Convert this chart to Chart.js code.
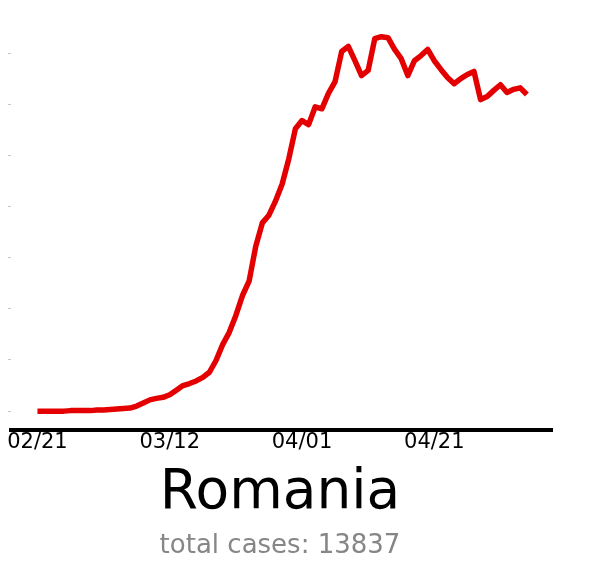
<!DOCTYPE html>
<html>
<head>
<meta charset="utf-8">
<script src="https://cdn.jsdelivr.net/npm/chart.js@4/dist/chart.umd.min.js"></script>
<style>
  html, body { margin: 0; padding: 0; background: #fff; }
  #chart { display: block; }
</style>
</head>
<body>
<canvas id="chart" width="589" height="562"></canvas>
<script>
// day offsets from 02/21 and the trend value for each day
const days = [];
for (let i = 0; i < 75; i++) days.push(i);
const trend = [
  0.00, 0.00, 0.00, 0.00, 0.00, 0.01, 0.01, 0.01, 0.01, 0.02,
  0.02, 0.03, 0.04, 0.05, 0.06, 0.10, 0.16, 0.22, 0.25, 0.27,
  0.32, 0.41, 0.50, 0.54, 0.59, 0.66, 0.76, 0.99, 1.30, 1.54,
  1.87, 2.26, 2.54, 3.22, 3.68, 3.83, 4.11, 4.44, 4.93, 5.52,
  5.68, 5.60, 5.95, 5.91, 6.21, 6.44, 7.03, 7.13, 6.85, 6.56,
  6.66, 7.28, 7.32, 7.30, 7.07, 6.89, 6.56, 6.85, 6.95, 7.07,
  6.85, 6.68, 6.52, 6.40, 6.50, 6.58, 6.64, 6.09, 6.15, 6.27,
  6.38, 6.23, 6.29, 6.32, 6.19
];
const tickDays = [0, 20, 40, 60];
const tickLabels = ['02/21', '03/12', '04/01', '04/21'];
const country = 'Romania';
const totalCases = 13837;

const points = days.map((d, i) => ({ x: d, y: trend[i] }));

new Chart(document.getElementById('chart').getContext('2d'), {
  type: 'line',
  data: {
    datasets: [{
      data: points,
      borderColor: '#e40000',
      borderWidth: 5.5,
      borderJoinStyle: 'round',
      pointRadius: 0,
      tension: 0,
      fill: false
    }]
  },
  options: {
    responsive: false,
    animation: false,
    layout: { padding: { left: 8, right: 37, top: 20, bottom: 0 } },
    plugins: {
      legend: { display: false },
      tooltip: { enabled: false },
      title: {
        display: true,
        position: 'bottom',
        text: country,
        color: '#000',
        font: { family: 'DejaVu Sans', size: 55, weight: 'normal' },
        padding: { top: 6, bottom: 4 }
      },
      subtitle: {
        display: true,
        position: 'bottom',
        weight: 2500,
        text: 'total cases: ' + totalCases,
        color: '#868686',
        font: { family: 'DejaVu Sans', size: 26, weight: 'normal' },
        padding: 0
      }
    },
    scales: {
      x: {
        type: 'linear',
        min: -4,
        max: 77.8,
        afterBuildTicks: axis => { axis.ticks = tickDays.map(v => ({ value: v })); },
        ticks: {
          color: '#000',
          padding: 0,
          maxRotation: 0,
          font: { family: 'DejaVu Sans', size: 21 },
          callback: v => tickLabels[tickDays.indexOf(v)]
        },
        grid: { display: false, drawTicks: false },
        border: { display: true, color: '#000', width: 4 }
      },
      y: {
        min: -0.361,
        max: 7.646,
        afterBuildTicks: axis => {
          axis.ticks = [0, 1, 2, 3, 4, 5, 6, 7].map(v => ({ value: v }));
        },
        ticks: { display: false },
        grid: { drawOnChartArea: false, drawTicks: true, tickLength: 3, color: '#c8c8c8', lineWidth: 1 },
        border: { display: false }
      }
    }
  }
});
</script>
</body>
</html>
